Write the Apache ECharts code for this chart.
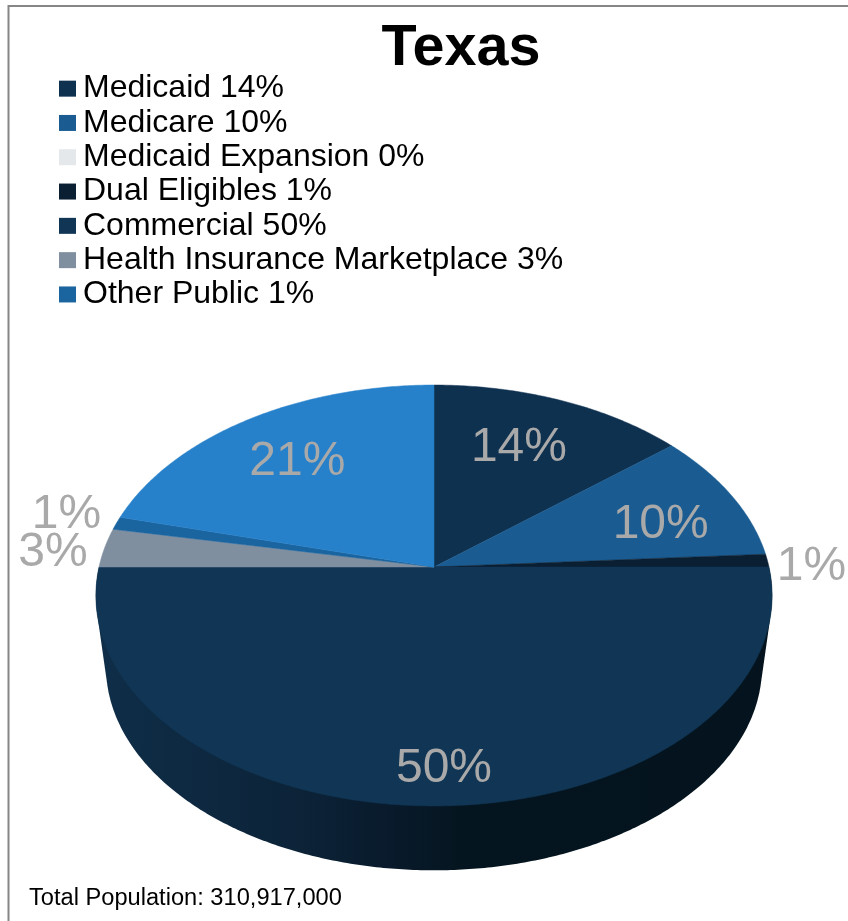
<!DOCTYPE html>
<html>
<head>
<meta charset="utf-8">
<style>html,body{margin:0;padding:0;background:#fff}#c{width:848px;height:921px}</style>
<script src="https://cdn.jsdelivr.net/npm/echarts@6/dist/echarts.min.js"></script>
</head>
<body>
<div id="c"></div>
<script>
// Data
const sliceNames = ['Medicaid', 'Medicare', 'Medicaid Expansion', 'Dual Eligibles', 'Commercial', 'Health Insurance Marketplace', 'Other Public', ''];
const sliceValues = [14, 10, 0, 1, 50, 3, 1, 21];
const chartTitle = 'Texas';
const footnote = 'Total Population: 310,917,000';

// Styling, kept apart from the data
const sliceColors = ['#0f3150', '#1a5c92', '#e5e8eb', '#0b1f33', '#113655', '#7f8fa0', '#1a64a0', '#2680ca'];
// radial factor + pixel nudge for each value label
const labelPlace = [[0.7, -7, 1], [0.7, 16, 9], [0, 0, 0], [1.13, 1, 7], [0.85, 10, 3], [1.15, -3, 8], [1.12, -13, -3], [0.7, -3, 1]];

// Perspective disc: the top face and the bottom rim of the pie
const topDisc = { cx: 434, cy: 567, a: 335, b: 206.6, k: 0.1354 };
const rimDisc = { cx: 434, cy: 639, a: 325, b: 200, k: 0.1354 };
function project(d, ang, r) {
  const u = Math.sin(ang) * r, v = Math.cos(ang) * r, w = 1 + d.k * v;
  return [d.cx + d.a * u / w, d.cy - d.b * v / w];
}
const total = sliceValues.reduce((s, x) => s + x, 0);
function startShare(i) {
  let s = 0;
  for (let j = 0; j < i; j++) s += sliceValues[j];
  return s / total;
}
const legendLabel = (i) => sliceNames[i] + ' ' + sliceValues[i] + '%';
const sideFill = {
  type: 'linear', global: true, x: 96, y: 0, x2: 772, y2: 0,
  colorStops: [
    { offset: 0, color: '#0f2e49' }, { offset: 0.3, color: '#0c2338' },
    { offset: 0.45, color: '#08192a' }, { offset: 0.55, color: '#05151f' }, { offset: 1, color: '#04131d' }
  ]
};
function convexHull(points) {
  const p = points.slice().sort((a, b) => a[0] - b[0] || a[1] - b[1]);
  const cross = (o, a, b) => (a[0] - o[0]) * (b[1] - o[1]) - (a[1] - o[1]) * (b[0] - o[0]);
  const walk = (list) => {
    const h = [];
    for (const q of list) {
      while (h.length >= 2 && cross(h[h.length - 2], h[h.length - 1], q) <= 0) h.pop();
      h.push(q);
    }
    h.pop();
    return h;
  };
  return walk(p).concat(walk(p.slice().reverse()));
}

function renderSlice(i) {
  return function (params, api) {
    const children = [];
    const v = sliceValues[i];
    if (!v) return { type: 'group', children };
    const a0 = startShare(i) * Math.PI * 2, a1 = a0 + v / total * Math.PI * 2;
    // outer side wall, only where the rim faces the viewer
    const s0 = Math.max(a0, Math.PI / 2), s1 = Math.min(a1, Math.PI * 1.5);
    if (s1 > s0) {
      const n = Math.ceil((s1 - s0) / 0.01), wall = [];
      for (let j = 0; j <= n; j++) {
        const p = s0 + (s1 - s0) * j / n;
        wall.push(project(topDisc, p, 1), project(rimDisc, p, 1));
      }
      children.push({
        type: 'polygon',
        shape: { points: convexHull(wall) },
        style: { fill: sideFill }
      });
    }
    // top face
    const pts = [project(topDisc, 0, 0)];
    const m = Math.max(4, Math.ceil((a1 - a0) / 0.01));
    for (let j = 0; j <= m; j++) pts.push(project(topDisc, a0 + (a1 - a0) * j / m, 1));
    const color = api.visual('color');
    children.push({ type: 'polygon', shape: { points: pts }, style: { fill: color, stroke: color, lineWidth: 0.5 } });
    // value label
    const lp = labelPlace[i];
    const c = project(topDisc, (a0 + a1) / 2, lp[0]);
    children.push({
      type: 'text',
      style: {
        x: c[0] + lp[1], y: c[1] + lp[2], text: v + '%', fill: '#a9a9a9',
        font: '48px "Liberation Sans", Arial, sans-serif', textAlign: 'center', textVerticalAlign: 'middle'
      }
    });
    return { type: 'group', children };
  };
}

const chart = echarts.init(document.getElementById('c'), null, { renderer: 'canvas' });
chart.setOption({
  animation: false,
  backgroundColor: '#fff',
  title: [
    { text: chartTitle, left: 456, top: 15, textAlign: 'center',
      textStyle: { fontFamily: 'Liberation Sans', fontSize: 57.5, fontWeight: 'bold', color: '#000' } },
    { text: footnote, left: 29, top: 886, padding: 0,
      textStyle: { fontFamily: 'Liberation Sans', fontSize: 23.65, fontWeight: 'normal', color: '#000' } }
  ],
  legend: {
    orient: 'vertical', left: 59, top: 71.5, padding: 0, itemGap: 0,
    itemWidth: 17, itemHeight: 16, icon: 'rect', selectedMode: false,
    data: sliceNames.map((n, i) => n ? legendLabel(i) : null).filter(Boolean),
    textStyle: { fontFamily: 'Liberation Sans', fontSize: 32, lineHeight: 34.3, color: '#000', padding: [0, 0, 0, 2] }
  },
  graphic: [
    { type: 'polyline', silent: true, z: 0,
      shape: { points: [[8.5, 921], [8.5, 6], [848, 6]] },
      style: { stroke: '#868686', lineWidth: 2, fill: null } }
  ],
  series: sliceNames.map((n, i) => ({
    type: 'custom',
    name: n ? legendLabel(i) : 'Other',
    coordinateSystem: 'none',
    silent: true,
    itemStyle: { color: sliceColors[i] },
    renderItem: renderSlice(i),
    data: [[sliceValues[i]]]
  }))
});
</script>
</body>
</html>
